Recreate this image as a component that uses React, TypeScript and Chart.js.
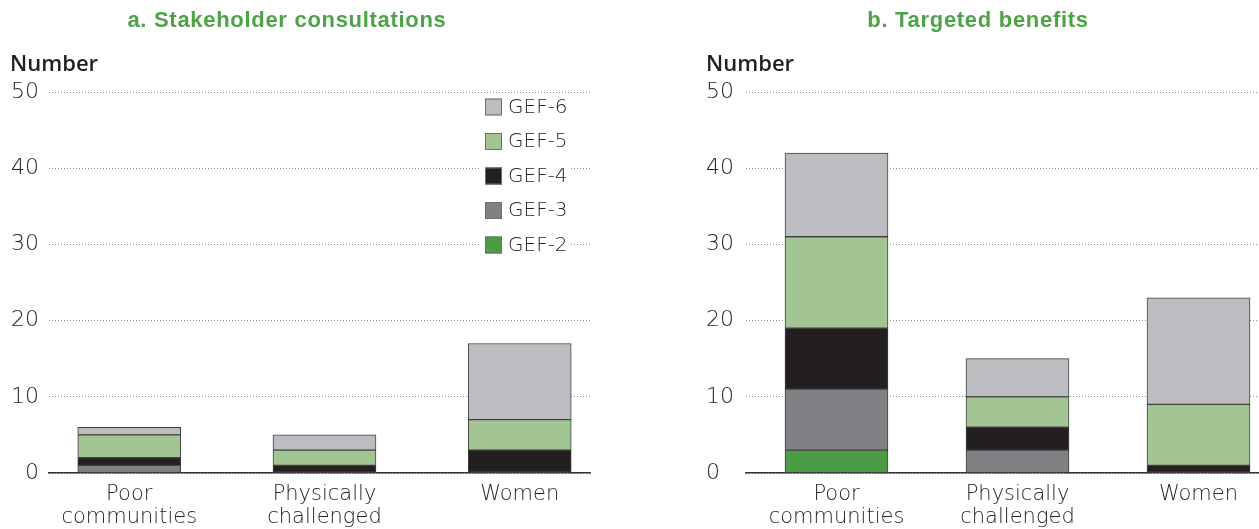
import React, { useEffect, useRef } from 'react';
import { Chart, registerables } from 'chart.js';

Chart.register(...registerables);

// ---------- data ----------
const categories: string[][] = [['Poor', 'communities'], ['Physically', 'challenged'], ['Women']];
const seriesLabels = ['GEF-2', 'GEF-3', 'GEF-4', 'GEF-5', 'GEF-6'];
const seriesColors = ['#4b9c45', '#808184', '#231f20', '#a3c594', '#bcbdc0'];
const yTickValues = [0, 10, 20, 30, 40, 50];

// a. Stakeholder consultations (Poor communities, Physically challenged, Women)
const consultGEF2 = [0, 0, 0];
const consultGEF3 = [1, 0, 0];
const consultGEF4 = [1, 1, 3];
const consultGEF5 = [3, 2, 4];
const consultGEF6 = [1, 2, 10];

// b. Targeted benefits
const benefitGEF2 = [3, 0, 0];
const benefitGEF3 = [8, 3, 0];
const benefitGEF4 = [8, 3, 1];
const benefitGEF5 = [12, 4, 8];
const benefitGEF6 = [11, 5, 14];

const titleA = 'a. Stakeholder consultations';
const titleB = 'b. Targeted benefits';
const yAxisLabel = 'Number';

// ---------- styling ----------
const TEXT = '#262626';
const GREEN_TITLE = '#4fa247';
const TICK_FONT = { family: '"DejaVu Sans", sans-serif', size: 22, weight: '200' as any };
const XTICK_FONT = { family: '"DejaVu Sans", sans-serif', size: 21, weight: '200' as any, lineHeight: 1.1 };

const insideLegend = {
  id: 'insideLegend',
  afterDraw(chart: any) {
    const { ctx, chartArea } = chart;
    const ds = chart.data.datasets.slice().reverse();
    const boxLeft = chartArea.right - 105;
    ctx.save();
    ctx.font = '200 20px "DejaVu Sans", sans-serif';
    ctx.textBaseline = 'middle';
    ds.forEach((d: any, i: number) => {
      const cy = chartArea.top + 14.5 + i * 34.5;
      const w = ctx.measureText(d.label).width;
      ctx.fillStyle = '#ffffff';
      ctx.fillRect(boxLeft - 6, cy - 12, 23 + w + 8, 24);
      ctx.fillStyle = d.backgroundColor;
      ctx.fillRect(boxLeft, cy - 8, 17, 17);
      ctx.strokeStyle = '#6d6e71';
      ctx.lineWidth = 1;
      ctx.strokeRect(boxLeft + 0.5, cy - 7.5, 16, 16);
      ctx.fillStyle = TEXT;
      ctx.fillText(d.label, boxLeft + 23, cy + 1);
    });
    ctx.restore();
  },
};

function buildConfig(series: number[][], p: {
  padLeft: number; padRight: number; yWidth: number; xMin: number; xMax: number;
  yAlign: 'near' | 'far'; legend: boolean;
}) {
  return {
    type: 'bar' as const,
    data: {
      datasets: series.map((vals, si) => ({
        label: seriesLabels[si],
        data: vals.map((v, i) => ({ x: i, y: v === 0 ? null : v })),
        backgroundColor: seriesColors[si],
        borderColor: '#404040',
        borderWidth: 1,
        borderSkipped: false,
        barThickness: 103,
      })),
    },
    options: {
      responsive: false,
      animation: false,
      events: [],
      layout: { padding: { left: p.padLeft, right: p.padRight, top: 92, bottom: 0 } },
      plugins: { legend: { display: false }, title: { display: false }, tooltip: { enabled: false } },
      scales: {
        x: {
          type: 'linear',
          stacked: true,
          min: p.xMin,
          max: p.xMax,
          offset: false,
          grid: { display: false, drawTicks: false },
          border: { display: true, color: '#333333', width: 1.5 },
          afterBuildTicks: (scale: any) => {
            scale.ticks = categories.map((_, i) => ({ value: i }));
          },
          afterFit: (scale: any) => { scale.height = 56; },
          ticks: {
            autoSkip: false,
            maxRotation: 0,
            minRotation: 0,
            padding: 10,
            color: TEXT,
            font: XTICK_FONT,
            callback: (v: any) => categories[v as number] ?? '',
          },
        },
        y: {
          type: 'linear',
          stacked: true,
          min: 0,
          max: 50,
          afterBuildTicks: (scale: any) => {
            scale.ticks = yTickValues.map((v) => ({ value: v }));
          },
          afterFit: (scale: any) => { scale.width = p.yWidth; },
          grid: { color: '#8c8c8c', lineWidth: 1, drawTicks: false },
          border: { display: false, dash: [1, 2] },
          ticks: {
            padding: 10,
            color: TEXT,
            font: TICK_FONT,
            crossAlign: p.yAlign,
          },
        },
      },
    },
    plugins: p.legend ? [insideLegend] : [],
  };
}

function Panel(props: { left: number; width: number; config: any }) {
  const ref = useRef<HTMLCanvasElement | null>(null);
  useEffect(() => {
    if (!ref.current) return;
    const chart = new Chart(ref.current, props.config);
    return () => chart.destroy();
  }, []);
  return (
    <canvas
      ref={ref}
      width={props.width}
      height={529}
      style={{ position: 'absolute', left: props.left, top: 0, width: props.width, height: 529 }}
    />
  );
}

const titleStyle: React.CSSProperties = {
  position: 'absolute',
  top: 7,
  height: 26,
  lineHeight: '26px',
  textAlign: 'center',
  fontFamily: '"Liberation Sans", Arial, sans-serif',
  fontWeight: 700,
  fontSize: 22,
  letterSpacing: '0.7px',
  color: GREEN_TITLE,
  whiteSpace: 'nowrap',
};

const numberStyle: React.CSSProperties = {
  position: 'absolute',
  top: 49,
  lineHeight: '26px',
  fontFamily: '"Open Sans", sans-serif',
  fontWeight: 600,
  fontSize: 22,
  color: '#231f20',
  whiteSpace: 'nowrap',
};

export default function App() {
  const leftConfig = buildConfig(
    [consultGEF2, consultGEF3, consultGEF4, consultGEF5, consultGEF6],
    { padLeft: 0, padRight: 30, yWidth: 49, xMin: -0.411, xMax: 2.36, yAlign: 'near', legend: true },
  );
  const rightConfig = buildConfig(
    [benefitGEF2, benefitGEF3, benefitGEF4, benefitGEF5, benefitGEF6],
    { padLeft: 66, padRight: 31, yWidth: 40, xMin: -0.5, xMax: 2.5, yAlign: 'far', legend: false },
  );
  return (
    <div style={{ position: 'fixed', left: 0, top: 0, width: 1259, height: 529, overflow: 'hidden', background: '#ffffff' }}>
      <Panel left={0} width={620} config={leftConfig} />
      <Panel left={640} width={680} config={rightConfig} />
      <div style={{ ...titleStyle, left: 0, width: 574 }}>{titleA}</div>
      <div style={{ ...titleStyle, left: 778, width: 400 }}>{titleB}</div>
      <div style={{ ...numberStyle, left: 10 }}>{yAxisLabel}</div>
      <div style={{ ...numberStyle, left: 706 }}>{yAxisLabel}</div>
    </div>
  );
}
